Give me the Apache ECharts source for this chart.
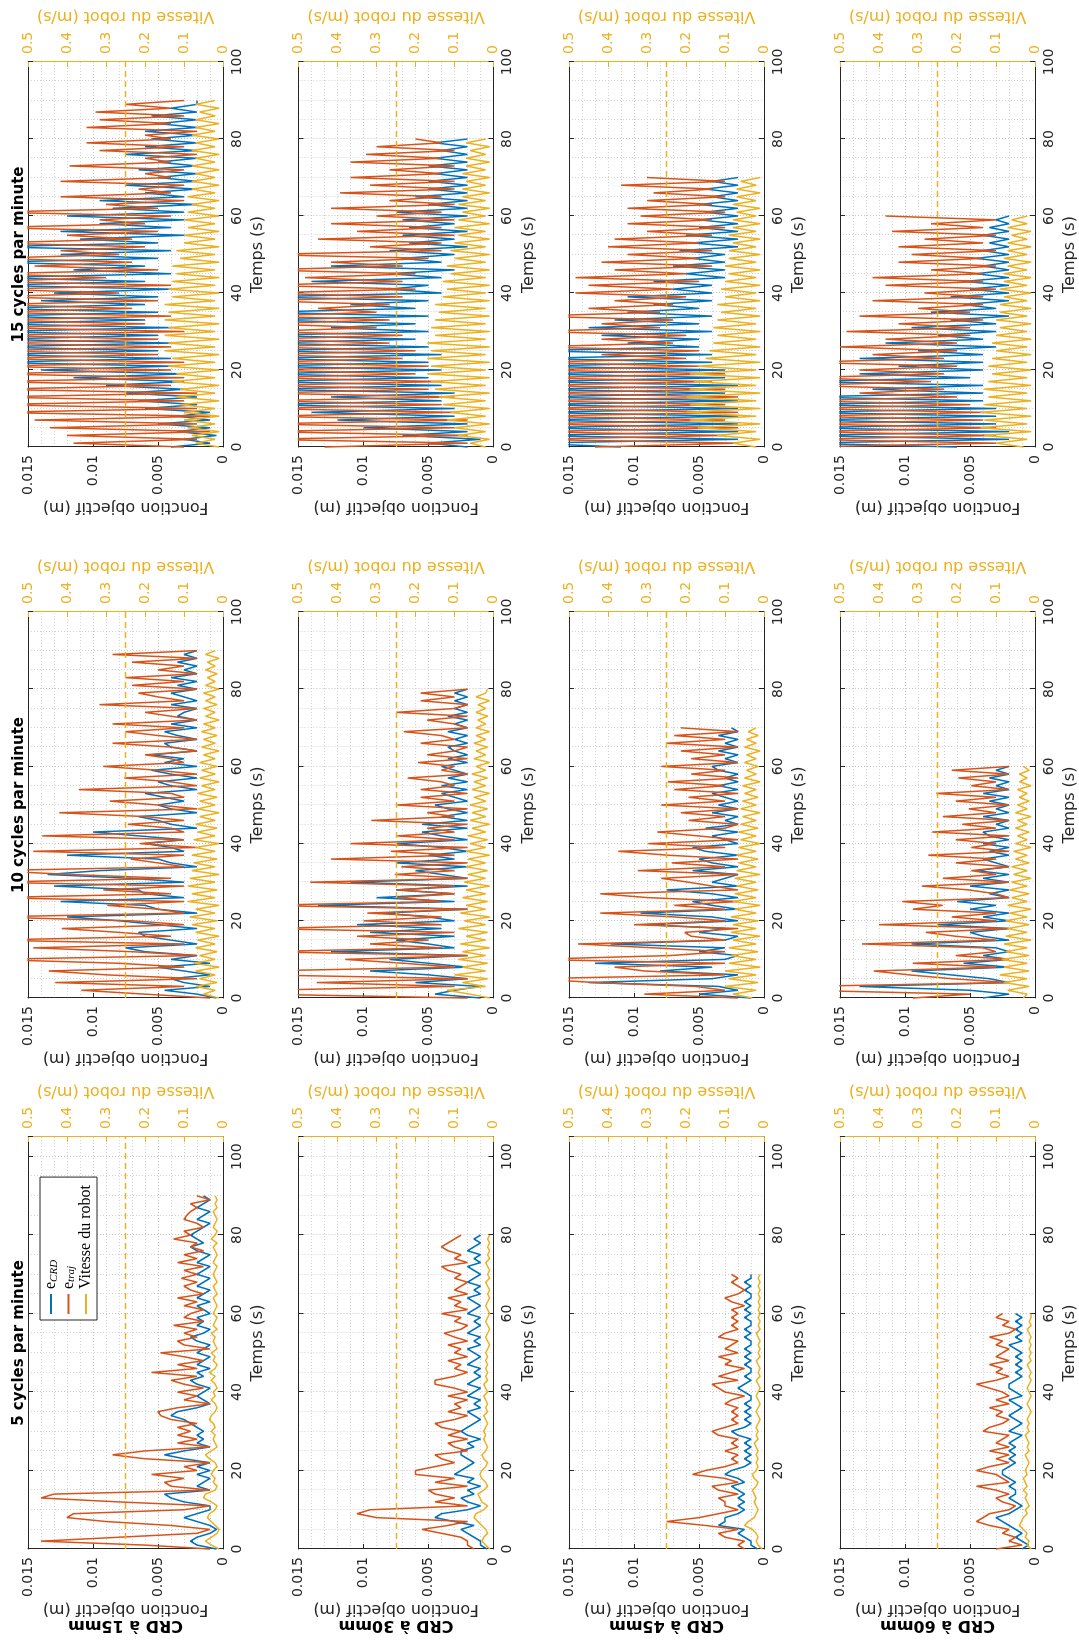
<!DOCTYPE html>
<html>
<head>
<meta charset="utf-8">
<script src="https://cdn.jsdelivr.net/npm/echarts/dist/echarts.min.js"></script>
<style>
html,body{margin:0;padding:0;width:1079px;height:1646px;overflow:hidden;background:#fff;}
#chart{position:absolute;left:0;top:1646px;width:1646px;height:1079px;transform-origin:0 0;transform:rotate(-90deg);background:#fff;}
</style>
</head>
<body>
<div id="chart"></div>
<script>
// ---------------- labels ----------------
const crdLabels = ['CRD à 15mm', 'CRD à 30mm', 'CRD à 45mm', 'CRD à 60mm'];
const cadenceLabels = ['5 cycles par minute', '10 cycles par minute', '15 cycles par minute'];
const seriesNames = ['e_CRD', 'e_traj', 'Vitesse du robot'];
const xAxisName = 'Temps (s)';
const yLeftName = 'Fonction objectif (m)';
const yRightName = 'Vitesse du robot (m/s)';
const vitesseSeuil = 0.25;      // dashed reference line (m/s)
const dt = 1;                   // sampling step of the arrays below (s)

// ---------------- data : CRD 15mm ----------------
const eCRD_15mm_5cpm = [
0.0005,0.002,0.0025,0.002,0.001,0.0005,0.001,0.002,0.003,0.002,
0.001,0.001,0.003,0.004,0.0045,0.001,0.002,0.0015,0.001,0.002,
0.001,0.002,0.001,0.003,0.0045,0.003,0.001,0.002,0.0015,0.002,
0.0015,0.002,0.0025,0.003,0.004,0.0035,0.002,0.001,0.0015,0.002,
0.0015,0.001,0.002,0.0025,0.0015,0.002,0.001,0.002,0.0015,0.001,
0.002,0.0015,0.001,0.002,0.0025,0.0015,0.001,0.002,0.0015,0.002,
0.001,0.0015,0.002,0.001,0.002,0.0015,0.001,0.002,0.0015,0.001,
0.002,0.0015,0.001,0.002,0.0015,0.001,0.002,0.0025,0.0015,0.002,
0.0025,0.002,0.0015,0.001,0.002,0.0015,0.001,0.002,0.0015,0.001,
0.0015];
const eTraj_15mm_5cpm = [
0.001,0.006,0.014,0.008,0.002,0.001,0.004,0.009,0.012,0.0115,
0.003,0.001,0.008,0.014,0.013,0.001,0.004,0.0045,0.003,0.0055,
0.002,0.003,0.001,0.006,0.0085,0.006,0.001,0.0035,0.002,0.0035,
0.0025,0.0035,0.002,0.004,0.0048,0.005,0.0035,0.001,0.003,0.002,
0.0035,0.0015,0.003,0.004,0.002,0.0055,0.002,0.0035,0.0015,0.003,
0.0048,0.001,0.003,0.0035,0.002,0.003,0.002,0.0038,0.0015,0.003,
0.0025,0.0015,0.003,0.002,0.0035,0.0015,0.0025,0.003,0.002,0.0032,
0.002,0.003,0.0015,0.0035,0.002,0.003,0.0015,0.0025,0.002,0.0038,
0.0025,0.003,0.0015,0.002,0.003,0.0028,0.0025,0.002,0.0025,0.001,
0.002];
const vit_15mm_5cpm = [
0.01,0.03,0.045,0.03,0.015,0.01,0.02,0.03,0.04,0.035,
0.02,0.015,0.03,0.05,0.045,0.02,0.015,0.025,0.02,0.03,
0.025,0.015,0.02,0.035,0.045,0.03,0.015,0.02,0.025,0.02,
0.03,0.02,0.025,0.035,0.03,0.02,0.015,0.02,0.03,0.02,
0.025,0.015,0.02,0.03,0.02,0.035,0.02,0.015,0.025,0.02,
0.03,0.015,0.02,0.025,0.02,0.03,0.015,0.025,0.02,0.015,
0.025,0.02,0.015,0.02,0.025,0.015,0.02,0.025,0.015,0.02,
0.025,0.02,0.015,0.025,0.02,0.015,0.02,0.025,0.015,0.03,
0.02,0.015,0.025,0.02,0.015,0.02,0.025,0.015,0.02,0.015,
0.02];

const eCRD_15mm_10cpm = [
0.0005,0.002,0.0045,0.001,0.003,0.004,0.001,0.003,0.005,0.001,
0.004,0.002,0.006,0.0075,0.002,0.004,0.006,0.0065,0.002,0.005,
0.008,0.012,0.002,0.005,0.006,0.0125,0.003,0.006,0.0065,0.013,
0.003,0.007,0.0135,0.0095,0.002,0.004,0.005,0.012,0.003,0.004,
0.006,0.003,0.0065,0.01,0.002,0.004,0.005,0.0065,0.002,0.004,
0.005,0.003,0.0045,0.006,0.002,0.004,0.005,0.002,0.004,0.0055,
0.002,0.0045,0.003,0.0055,0.002,0.004,0.0045,0.002,0.0035,0.0045,
0.002,0.004,0.002,0.0035,0.003,0.002,0.004,0.002,0.003,0.004,
0.002,0.0035,0.002,0.004,0.002,0.003,0.002,0.0035,0.002,0.003,
0.002];
const eTraj_15mm_10cpm = [
0.001,0.006,0.0109,0.003,0.0129,0.002,0.009,0.0134,0.003,0.008,
0.018,0.002,0.007,0.0146,0.003,0.018,0.004,0.008,0.0124,0.003,
0.007,0.018,0.003,0.005,0.0089,0.003,0.018,0.004,0.0092,0.003,
0.018,0.004,0.0117,0.018,0.003,0.005,0.0071,0.003,0.0146,0.002,
0.0064,0.003,0.0139,0.003,0.004,0.0073,0.003,0.006,0.0126,0.002,
0.005,0.0087,0.003,0.004,0.0111,0.002,0.004,0.0076,0.002,0.005,
0.0092,0.003,0.004,0.006,0.002,0.004,0.0085,0.002,0.005,0.0075,
0.003,0.0085,0.002,0.004,0.006,0.002,0.0095,0.003,0.005,0.0065,
0.002,0.007,0.003,0.0075,0.002,0.005,0.003,0.007,0.002,0.0085,
0.002];
const vit_15mm_10cpm = [
0.01,0.05,0.02,0.07,0.015,0.06,0.02,0.07,0.01,0.075,
0.02,0.06,0.015,0.07,0.02,0.065,0.01,0.07,0.02,0.08,
0.015,0.085,0.02,0.07,0.01,0.09,0.02,0.08,0.015,0.09,
0.02,0.085,0.01,0.08,0.02,0.075,0.015,0.08,0.02,0.07,
0.01,0.075,0.02,0.065,0.015,0.07,0.02,0.06,0.01,0.065,
0.02,0.06,0.015,0.065,0.02,0.055,0.01,0.06,0.02,0.055,
0.015,0.06,0.02,0.05,0.01,0.055,0.02,0.05,0.015,0.055,
0.02,0.05,0.01,0.045,0.02,0.05,0.015,0.045,0.02,0.05,
0.01,0.045,0.02,0.04,0.015,0.045,0.02,0.04,0.01,0.045,
0.02];

const eCRD_15mm_15cpm = [
0.004,0.001,0.003,0.0005,0.0035,0.001,0.005,0.001,0.0035,0.001,
0.006,0.002,0.0065,0.002,0.0075,0.003,0.009,0.003,0.0115,0.003,
0.014,0.004,0.018,0.004,0.018,0.005,0.018,0.004,0.018,0.005,
0.018,0.004,0.018,0.006,0.018,0.005,0.018,0.006,0.014,0.005,
0.013,0.004,0.018,0.006,0.018,0.004,0.0115,0.006,0.018,0.005,
0.0125,0.004,0.018,0.005,0.011,0.003,0.0125,0.004,0.0095,0.003,
0.012,0.003,0.0085,0.002,0.0095,0.003,0.006,0.002,0.0075,0.002,
0.005,0.002,0.0065,0.002,0.005,0.002,0.0075,0.002,0.006,0.002,
0.0055,0.002,0.006,0.002,0.005,0.002,0.0055,0.002,0.004,0.002,
0.002];
const eTraj_15mm_15cpm = [
0.003,0.0115,0.002,0.012,0.001,0.0133,0.002,0.0145,0.001,0.018,
0.002,0.018,0.003,0.018,0.002,0.018,0.004,0.018,0.003,0.018,
0.004,0.018,0.003,0.018,0.005,0.018,0.004,0.018,0.005,0.018,
0.003,0.018,0.006,0.018,0.004,0.018,0.007,0.018,0.005,0.018,
0.008,0.018,0.004,0.018,0.009,0.018,0.005,0.0145,0.007,0.018,
0.008,0.0125,0.006,0.018,0.007,0.012,0.005,0.018,0.006,0.0095,
0.004,0.018,0.005,0.009,0.003,0.0125,0.004,0.0065,0.003,0.0125,
0.004,0.006,0.003,0.0118,0.004,0.006,0.002,0.0095,0.003,0.0105,
0.004,0.006,0.002,0.0105,0.004,0.0095,0.003,0.0098,0.004,0.0075,
0.003];
const vit_15mm_15cpm = [
0.01,0.07,0.02,0.08,0.01,0.09,0.02,0.1,0.01,0.1,
0.02,0.11,0.01,0.12,0.02,0.11,0.01,0.13,0.02,0.12,
0.01,0.14,0.02,0.13,0.01,0.15,0.02,0.14,0.01,0.15,
0.02,0.14,0.01,0.15,0.02,0.14,0.01,0.15,0.02,0.13,
0.01,0.14,0.02,0.13,0.01,0.12,0.02,0.13,0.01,0.11,
0.02,0.12,0.01,0.1,0.02,0.1,0.01,0.09,0.02,0.1,
0.01,0.09,0.02,0.08,0.01,0.09,0.02,0.08,0.01,0.08,
0.02,0.07,0.01,0.08,0.02,0.07,0.01,0.08,0.02,0.07,
0.01,0.08,0.02,0.07,0.01,0.07,0.02,0.06,0.01,0.07,
0.02];

// ---------------- data : CRD 30mm ----------------
const eCRD_30mm_5cpm = [
0.0005,0.001,0.001,0.0015,0.002,0.0025,0.0015,0.003,0.0045,0.004,
0.002,0.001,0.002,0.0025,0.0015,0.002,0.001,0.002,0.0015,0.003,
0.0025,0.002,0.0015,0.002,0.0025,0.0025,0.0015,0.002,0.001,0.002,
0.0025,0.002,0.0015,0.001,0.0015,0.002,0.001,0.0015,0.001,0.002,
0.0015,0.001,0.002,0.0015,0.001,0.0015,0.001,0.002,0.0015,0.001,
0.0015,0.002,0.001,0.0015,0.001,0.002,0.0015,0.001,0.0015,0.001,
0.002,0.0015,0.001,0.0015,0.002,0.001,0.0015,0.001,0.002,0.0015,
0.001,0.0015,0.002,0.001,0.0015,0.001,0.002,0.0015,0.001,0.0015,
0.001];
const eTraj_30mm_5cpm = [
0.0015,0.002,0.002,0.0025,0.004,0.0055,0.0035,0.002,0.009,0.0105,
0.0095,0.002,0.0045,0.003,0.0045,0.005,0.002,0.0045,0.003,0.006,
0.006,0.0045,0.003,0.004,0.0045,0.002,0.003,0.0035,0.002,0.0035,
0.0025,0.004,0.0045,0.003,0.002,0.0035,0.0025,0.003,0.002,0.0035,
0.002,0.003,0.0045,0.0045,0.003,0.002,0.003,0.0025,0.0035,0.002,
0.003,0.0025,0.0035,0.002,0.003,0.0038,0.0025,0.002,0.003,0.0025,
0.004,0.002,0.003,0.0025,0.0035,0.002,0.003,0.0025,0.002,0.003,
0.0025,0.0035,0.004,0.002,0.003,0.0025,0.0035,0.004,0.0035,0.003,
0.0025];
const vit_30mm_5cpm = [
0.01,0.02,0.03,0.025,0.015,0.02,0.03,0.04,0.05,0.045,
0.025,0.015,0.03,0.035,0.04,0.025,0.015,0.02,0.03,0.035,
0.03,0.02,0.015,0.025,0.03,0.02,0.015,0.02,0.025,0.02,
0.025,0.02,0.015,0.02,0.025,0.015,0.02,0.015,0.02,0.025,
0.015,0.02,0.025,0.015,0.02,0.015,0.02,0.015,0.02,0.015,
0.02,0.015,0.01,0.015,0.02,0.015,0.01,0.015,0.02,0.015,
0.01,0.015,0.02,0.015,0.01,0.015,0.01,0.015,0.02,0.01,
0.015,0.01,0.015,0.02,0.01,0.015,0.01,0.015,0.01,0.015,
0.01];

const eCRD_30mm_10cpm = [
0.001,0.0045,0.003,0.001,0.006,0.002,0.005,0.0095,0.002,0.005,
0.008,0.002,0.0125,0.003,0.005,0.0075,0.003,0.0095,0.004,0.0105,
0.003,0.005,0.0085,0.002,0.0135,0.003,0.009,0.003,0.0075,0.002,
0.011,0.002,0.004,0.006,0.002,0.0075,0.003,0.005,0.002,0.004,
0.0075,0.002,0.004,0.0055,0.002,0.0055,0.002,0.004,0.002,0.0035,
0.0045,0.002,0.003,0.004,0.002,0.004,0.002,0.0035,0.002,0.003,
0.004,0.002,0.0035,0.002,0.003,0.0035,0.002,0.003,0.002,0.0035,
0.002,0.003,0.002,0.0035,0.002,0.003,0.002,0.003,0.002,0.003,
0.002];
const eTraj_30mm_10cpm = [
0.002,0.018,0.018,0.003,0.0136,0.002,0.018,0.018,0.003,0.0069,
0.0114,0.002,0.018,0.004,0.0095,0.005,0.0105,0.003,0.018,0.004,
0.01,0.004,0.0097,0.002,0.018,0.004,0.0074,0.003,0.0074,0.003,
0.0141,0.002,0.0076,0.003,0.0071,0.002,0.0125,0.003,0.0079,0.002,
0.011,0.003,0.0074,0.003,0.0051,0.002,0.0094,0.003,0.0051,0.002,
0.0074,0.003,0.0056,0.002,0.0056,0.003,0.004,0.0066,0.002,0.004,
0.003,0.0058,0.002,0.0051,0.003,0.002,0.0056,0.003,0.004,0.0069,
0.002,0.003,0.0051,0.002,0.0075,0.003,0.002,0.0056,0.003,0.0056,
0.002];
const vit_30mm_10cpm = [
0.01,0.06,0.12,0.02,0.08,0.015,0.1,0.02,0.08,0.015,
0.09,0.02,0.08,0.01,0.085,0.02,0.07,0.015,0.09,0.02,
0.075,0.01,0.085,0.02,0.07,0.015,0.08,0.02,0.07,0.01,
0.075,0.02,0.065,0.015,0.07,0.02,0.065,0.01,0.07,0.02,
0.06,0.015,0.065,0.02,0.055,0.01,0.06,0.02,0.055,0.015,
0.06,0.02,0.05,0.01,0.055,0.02,0.05,0.015,0.055,0.02,
0.045,0.01,0.05,0.02,0.045,0.015,0.05,0.02,0.045,0.01,
0.045,0.02,0.04,0.015,0.045,0.02,0.04,0.01,0.045,0.02,
0.015];

const eCRD_30mm_15cpm = [
0.002,0.005,0.001,0.007,0.002,0.01,0.002,0.012,0.003,0.014,
0.003,0.018,0.004,0.0125,0.003,0.018,0.004,0.018,0.005,0.018,
0.004,0.018,0.005,0.018,0.004,0.018,0.005,0.018,0.006,0.018,
0.005,0.0125,0.006,0.018,0.005,0.018,0.006,0.011,0.005,0.018,
0.004,0.008,0.005,0.014,0.004,0.008,0.003,0.0125,0.004,0.007,
0.003,0.008,0.002,0.0065,0.003,0.007,0.002,0.0065,0.003,0.007,
0.002,0.0075,0.002,0.005,0.002,0.006,0.002,0.005,0.002,0.005,
0.002,0.0045,0.002,0.005,0.002,0.0045,0.002,0.004,0.002,0.0045,
0.002];
const eTraj_30mm_15cpm = [
0.013,0.002,0.018,0.002,0.018,0.003,0.018,0.002,0.018,0.003,
0.018,0.004,0.018,0.003,0.018,0.005,0.018,0.004,0.018,0.006,
0.018,0.005,0.018,0.007,0.018,0.006,0.018,0.008,0.018,0.007,
0.018,0.009,0.018,0.008,0.018,0.009,0.0135,0.008,0.018,0.007,
0.018,0.006,0.018,0.007,0.0145,0.006,0.018,0.007,0.0125,0.005,
0.018,0.004,0.0095,0.004,0.0135,0.003,0.0105,0.004,0.0125,0.003,
0.009,0.004,0.0125,0.003,0.008,0.004,0.0118,0.003,0.0095,0.003,
0.011,0.004,0.008,0.003,0.011,0.004,0.0098,0.003,0.009,0.004,
0.006];
const vit_30mm_15cpm = [
0.02,0.06,0.01,0.09,0.02,0.1,0.01,0.12,0.02,0.11,
0.01,0.13,0.02,0.14,0.01,0.15,0.02,0.16,0.01,0.17,
0.02,0.16,0.01,0.17,0.02,0.16,0.01,0.17,0.02,0.15,
0.01,0.16,0.02,0.15,0.01,0.14,0.02,0.15,0.01,0.13,
0.02,0.12,0.01,0.13,0.02,0.11,0.01,0.12,0.02,0.1,
0.01,0.11,0.02,0.1,0.01,0.09,0.02,0.1,0.01,0.09,
0.02,0.08,0.01,0.09,0.02,0.08,0.01,0.08,0.02,0.07,
0.01,0.08,0.02,0.07,0.01,0.07,0.02,0.06,0.01,0.07,
0.02];

// ---------------- data : CRD 45mm ----------------
const eCRD_45mm_5cpm = [
0.0005,0.001,0.001,0.0015,0.002,0.0015,0.0035,0.003,0.003,0.002,
0.0015,0.002,0.0015,0.002,0.0015,0.002,0.0025,0.0015,0.002,0.003,
0.0025,0.0015,0.001,0.0015,0.001,0.0015,0.001,0.0015,0.001,0.002,
0.0025,0.0015,0.001,0.0015,0.001,0.0015,0.001,0.0015,0.001,0.001,
0.0015,0.002,0.0015,0.001,0.0015,0.001,0.001,0.0015,0.001,0.0015,
0.001,0.0015,0.001,0.001,0.0015,0.001,0.0015,0.001,0.001,0.0015,
0.001,0.0015,0.001,0.0015,0.001,0.001,0.0015,0.001,0.0015,0.001,
0.001];
const eTraj_45mm_5cpm = [
0.0015,0.002,0.0015,0.003,0.0035,0.002,0.0045,0.0075,0.005,0.0035,
0.002,0.003,0.003,0.0035,0.002,0.0035,0.004,0.002,0.003,0.0055,
0.0045,0.003,0.002,0.0025,0.002,0.003,0.002,0.0025,0.002,0.0035,
0.004,0.003,0.002,0.0025,0.002,0.0025,0.002,0.003,0.0025,0.0015,
0.003,0.0035,0.004,0.002,0.0035,0.0025,0.0015,0.003,0.0025,0.0035,
0.002,0.003,0.0025,0.002,0.0035,0.003,0.002,0.0025,0.002,0.0025,
0.002,0.0025,0.0015,0.0025,0.003,0.002,0.0015,0.002,0.0025,0.002,
0.0025];
const vit_45mm_5cpm = [
0.005,0.015,0.02,0.015,0.02,0.03,0.05,0.04,0.025,0.02,
0.015,0.02,0.025,0.02,0.025,0.03,0.02,0.015,0.025,0.03,
0.02,0.015,0.02,0.015,0.02,0.015,0.02,0.025,0.015,0.02,
0.015,0.02,0.015,0.01,0.015,0.02,0.015,0.01,0.015,0.02,
0.015,0.01,0.015,0.02,0.01,0.015,0.01,0.015,0.02,0.01,
0.015,0.01,0.015,0.01,0.015,0.02,0.01,0.015,0.01,0.015,
0.01,0.015,0.01,0.015,0.01,0.015,0.01,0.015,0.01,0.015,
0.01];

const eCRD_45mm_10cpm = [
0.001,0.005,0.002,0.0035,0.0135,0.004,0.002,0.008,0.004,0.013,
0.003,0.002,0.005,0.003,0.0118,0.003,0.002,0.005,0.003,0.009,
0.002,0.004,0.0095,0.002,0.004,0.0055,0.002,0.004,0.0075,0.002,
0.004,0.003,0.002,0.0055,0.002,0.004,0.005,0.002,0.0045,0.0055,
0.002,0.003,0.004,0.002,0.0045,0.002,0.003,0.002,0.004,0.002,
0.0035,0.002,0.003,0.004,0.002,0.0035,0.002,0.003,0.002,0.0035,
0.004,0.002,0.003,0.002,0.0035,0.002,0.003,0.002,0.0035,0.002,
0.0025];
const eTraj_45mm_10cpm = [
0.002,0.0092,0.003,0.0053,0.0129,0.018,0.003,0.0092,0.0115,0.003,
0.018,0.0072,0.003,0.0085,0.0143,0.003,0.0056,0.0061,0.002,0.01,
0.003,0.0069,0.0126,0.003,0.0069,0.002,0.0089,0.0126,0.002,0.004,
0.0058,0.0079,0.002,0.0097,0.003,0.0071,0.002,0.0074,0.0112,0.003,
0.0089,0.002,0.0051,0.0082,0.003,0.002,0.0058,0.003,0.0064,0.002,
0.0079,0.003,0.0058,0.002,0.0069,0.003,0.0074,0.002,0.0056,0.003,
0.0079,0.002,0.0056,0.003,0.0064,0.002,0.0075,0.003,0.0069,0.002,
0.0064];
const vit_45mm_10cpm = [
0.03,0.08,0.02,0.1,0.015,0.09,0.02,0.1,0.01,0.09,
0.02,0.085,0.015,0.09,0.02,0.08,0.01,0.085,0.02,0.08,
0.015,0.085,0.02,0.075,0.01,0.08,0.02,0.075,0.015,0.07,
0.02,0.075,0.01,0.07,0.02,0.065,0.015,0.07,0.02,0.065,
0.01,0.06,0.02,0.065,0.015,0.06,0.02,0.055,0.01,0.06,
0.02,0.055,0.015,0.05,0.02,0.055,0.01,0.05,0.02,0.045,
0.015,0.05,0.02,0.045,0.01,0.05,0.02,0.045,0.015,0.04,
0.02];

const eCRD_45mm_15cpm = [
0.011,0.018,0.002,0.018,0.002,0.018,0.002,0.018,0.002,0.018,
0.002,0.018,0.002,0.018,0.003,0.018,0.002,0.018,0.003,0.018,
0.003,0.018,0.004,0.018,0.004,0.018,0.005,0.0105,0.005,0.0125,
0.004,0.0135,0.005,0.0115,0.004,0.0105,0.005,0.0085,0.004,0.0105,
0.004,0.007,0.004,0.0085,0.003,0.006,0.003,0.007,0.003,0.0055,
0.003,0.0065,0.002,0.0055,0.002,0.006,0.002,0.005,0.002,0.005,
0.002,0.0045,0.002,0.005,0.002,0.004,0.002,0.0045,0.002,0.004,
0.002];
const eTraj_45mm_15cpm = [
0.013,0.002,0.018,0.003,0.018,0.002,0.018,0.003,0.018,0.002,
0.018,0.003,0.018,0.002,0.018,0.003,0.018,0.004,0.018,0.003,
0.018,0.005,0.018,0.006,0.0125,0.005,0.018,0.007,0.0125,0.006,
0.018,0.008,0.0125,0.007,0.018,0.008,0.0135,0.007,0.0115,0.006,
0.0145,0.007,0.0135,0.005,0.0145,0.006,0.0115,0.004,0.0125,0.005,
0.0105,0.004,0.012,0.005,0.0115,0.004,0.009,0.003,0.0105,0.004,
0.0095,0.003,0.0105,0.004,0.009,0.003,0.0085,0.004,0.011,0.003,
0.009];
const vit_45mm_15cpm = [
0.02,0.08,0.01,0.12,0.02,0.17,0.01,0.19,0.02,0.2,
0.01,0.19,0.02,0.2,0.01,0.19,0.02,0.18,0.01,0.19,
0.02,0.17,0.01,0.15,0.02,0.14,0.01,0.13,0.02,0.12,
0.01,0.13,0.02,0.12,0.01,0.11,0.02,0.12,0.01,0.1,
0.02,0.11,0.01,0.1,0.02,0.09,0.01,0.1,0.02,0.09,
0.01,0.09,0.02,0.08,0.01,0.09,0.02,0.08,0.01,0.08,
0.02,0.07,0.01,0.08,0.02,0.07,0.01,0.07,0.02,0.06,
0.01];

// ---------------- data : CRD 60mm ----------------
const eCRD_60mm_5cpm = [
0.001,0.0005,0.001,0.0015,0.001,0.0015,0.002,0.0025,0.003,0.002,
0.0015,0.001,0.0015,0.002,0.0015,0.0015,0.002,0.0015,0.002,0.0025,
0.0025,0.002,0.0015,0.002,0.0015,0.002,0.0015,0.002,0.0015,0.001,
0.002,0.0015,0.001,0.0015,0.002,0.0015,0.001,0.0015,0.002,0.001,
0.0015,0.002,0.002,0.0015,0.001,0.0015,0.001,0.0015,0.001,0.0015,
0.001,0.0015,0.002,0.001,0.0015,0.001,0.0015,0.001,0.0015,0.001,
0.0015];
const eTraj_60mm_5cpm = [
0.003,0.001,0.002,0.0015,0.0025,0.002,0.0035,0.0045,0.004,0.0035,
0.002,0.0015,0.0025,0.003,0.002,0.003,0.0045,0.002,0.0025,0.003,
0.0045,0.0035,0.002,0.003,0.002,0.0035,0.002,0.003,0.0025,0.002,
0.004,0.0035,0.0025,0.002,0.003,0.0025,0.0035,0.002,0.003,0.002,
0.0025,0.0035,0.0045,0.003,0.002,0.003,0.0025,0.0035,0.002,0.003,
0.0025,0.002,0.003,0.0025,0.0035,0.002,0.0015,0.0025,0.002,0.003,
0.0025];
const vit_60mm_5cpm = [
0.01,0.02,0.015,0.025,0.02,0.03,0.04,0.035,0.03,0.02,
0.025,0.015,0.02,0.025,0.02,0.03,0.02,0.025,0.03,0.02,
0.025,0.02,0.015,0.02,0.025,0.015,0.02,0.015,0.02,0.025,
0.015,0.02,0.015,0.02,0.015,0.01,0.015,0.02,0.015,0.01,
0.015,0.02,0.015,0.01,0.015,0.01,0.015,0.02,0.01,0.015,
0.01,0.015,0.01,0.015,0.01,0.015,0.02,0.01,0.015,0.01,
0.01];

const eCRD_60mm_10cpm = [
0.004,0.002,0.005,0.0135,0.002,0.0035,0.0065,0.0095,0.002,0.0055,
0.002,0.004,0.002,0.003,0.0095,0.002,0.004,0.005,0.002,0.0075,
0.002,0.004,0.002,0.005,0.003,0.006,0.002,0.0035,0.002,0.005,
0.002,0.004,0.002,0.0045,0.002,0.003,0.004,0.002,0.0035,0.002,
0.004,0.002,0.0035,0.004,0.002,0.003,0.002,0.004,0.002,0.003,
0.002,0.0035,0.002,0.004,0.002,0.003,0.002,0.0035,0.002,0.003,
0.002];
const eTraj_60mm_10cpm = [
0.0094,0.005,0.018,0.018,0.002,0.0064,0.0097,0.0124,0.003,0.0094,
0.002,0.0061,0.003,0.004,0.0133,0.003,0.0061,0.0084,0.002,0.012,
0.003,0.0064,0.003,0.0094,0.0071,0.0102,0.002,0.003,0.0051,0.0087,
0.002,0.0071,0.003,0.0049,0.002,0.0061,0.003,0.0082,0.002,0.0049,
0.003,0.0061,0.002,0.0079,0.003,0.0056,0.002,0.0071,0.003,0.0051,
0.002,0.0061,0.003,0.0076,0.002,0.0049,0.003,0.0059,0.002,0.0064,
0.002];
const vit_60mm_10cpm = [
0.03,0.02,0.07,0.015,0.08,0.02,0.09,0.015,0.08,0.02,
0.085,0.015,0.075,0.02,0.08,0.01,0.075,0.02,0.07,0.015,
0.075,0.02,0.065,0.01,0.07,0.02,0.06,0.015,0.065,0.02,
0.06,0.01,0.055,0.02,0.06,0.015,0.05,0.02,0.055,0.01,
0.05,0.02,0.045,0.015,0.05,0.02,0.045,0.01,0.05,0.02,
0.045,0.015,0.04,0.02,0.045,0.01,0.04,0.02,0.04,0.015,
0.03];

const eCRD_60mm_15cpm = [
0.006,0.018,0.002,0.018,0.002,0.018,0.003,0.018,0.003,0.018,
0.003,0.018,0.004,0.018,0.004,0.0125,0.004,0.018,0.005,0.0135,
0.004,0.0105,0.004,0.0135,0.004,0.009,0.003,0.0115,0.004,0.0075,
0.003,0.0095,0.003,0.0065,0.002,0.008,0.003,0.0055,0.002,0.0065,
0.002,0.005,0.002,0.0055,0.002,0.0045,0.002,0.004,0.002,0.0045,
0.002,0.004,0.002,0.0035,0.002,0.004,0.002,0.0035,0.002,0.003,
0.002];
const eTraj_60mm_15cpm = [
0.018,0.003,0.018,0.003,0.018,0.003,0.018,0.004,0.018,0.004,
0.018,0.005,0.018,0.006,0.0135,0.007,0.018,0.008,0.018,0.007,
0.0135,0.006,0.018,0.007,0.0125,0.006,0.015,0.006,0.0115,0.005,
0.0145,0.005,0.0105,0.004,0.0135,0.005,0.009,0.004,0.0125,0.004,
0.0085,0.003,0.0115,0.004,0.0125,0.004,0.008,0.003,0.0105,0.004,
0.0095,0.003,0.0105,0.004,0.0085,0.003,0.011,0.004,0.008,0.003,
0.0115];
const vit_60mm_15cpm = [
0.03,0.1,0.02,0.13,0.01,0.14,0.02,0.13,0.01,0.14,
0.02,0.13,0.01,0.12,0.02,0.13,0.01,0.12,0.02,0.11,
0.01,0.12,0.02,0.11,0.01,0.1,0.02,0.11,0.01,0.1,
0.02,0.09,0.01,0.1,0.02,0.09,0.01,0.09,0.02,0.08,
0.01,0.09,0.02,0.08,0.01,0.08,0.02,0.07,0.01,0.08,
0.02,0.07,0.01,0.07,0.02,0.06,0.01,0.07,0.02,0.06,
0.02];

// rows = CRD distance, columns = cadence
const panelData = [
  [[eCRD_15mm_5cpm, eTraj_15mm_5cpm, vit_15mm_5cpm], [eCRD_15mm_10cpm, eTraj_15mm_10cpm, vit_15mm_10cpm], [eCRD_15mm_15cpm, eTraj_15mm_15cpm, vit_15mm_15cpm]],
  [[eCRD_30mm_5cpm, eTraj_30mm_5cpm, vit_30mm_5cpm], [eCRD_30mm_10cpm, eTraj_30mm_10cpm, vit_30mm_10cpm], [eCRD_30mm_15cpm, eTraj_30mm_15cpm, vit_30mm_15cpm]],
  [[eCRD_45mm_5cpm, eTraj_45mm_5cpm, vit_45mm_5cpm], [eCRD_45mm_10cpm, eTraj_45mm_10cpm, vit_45mm_10cpm], [eCRD_45mm_15cpm, eTraj_45mm_15cpm, vit_45mm_15cpm]],
  [[eCRD_60mm_5cpm, eTraj_60mm_5cpm, vit_60mm_5cpm], [eCRD_60mm_10cpm, eTraj_60mm_10cpm, vit_60mm_10cpm], [eCRD_60mm_15cpm, eTraj_60mm_15cpm, vit_60mm_15cpm]]
];

// ---------------- layout / style (in the un-rotated 1646 x 1079 frame) ----------------
const COL_LEFT = [97, 648, 1199];
const COL_W = [412, 386, 385];
const COL_XMAX = [105, 100, 100];
const ROW_TOP = [28, 298.5, 569, 840];
const BOX_H = 195;
const FONT = '"DejaVu Sans", sans-serif';
const C_BLUE = '#0072BD', C_RED = '#D95319', C_YEL = '#EDB120', C_AX = '#262626';
const seriesColors = [C_BLUE, C_RED, C_YEL];
const GRID_MAJOR = {color: '#c4c4c4', width: 1, type: [1, 2]};
const GRID_MINOR = {color: '#d4d4d4', width: 1, type: [1, 2]};

const grids = [], xAxes = [], yAxes = [], series = [], graphics = [];

function toPairs(arr) { return arr.map((v, i) => [i * dt, v]); }

for (let r = 0; r < 4; r++) {
  for (let c = 0; c < 3; c++) {
    const g = r * 3 + c;
    grids.push({left: COL_LEFT[c], top: ROW_TOP[r], width: COL_W[c], height: BOX_H});
    // bottom x axis
    xAxes.push({
      gridIndex: g, type: 'value', min: 0, max: COL_XMAX[c], interval: 20, position: 'bottom',
      name: xAxisName, nameLocation: 'middle', nameGap: 27,
      nameTextStyle: {fontFamily: FONT, fontSize: 16, color: C_AX},
      axisLine: {show: true, onZero: false, lineStyle: {color: C_AX, width: 1}},
      axisTick: {show: true, inside: true, length: 5, lineStyle: {color: C_AX}},
      axisLabel: {fontFamily: FONT, fontSize: 14, color: C_AX, margin: 7, showMaxLabel: COL_XMAX[c] === 100},
      splitLine: {show: true, lineStyle: GRID_MAJOR},
      minorTick: {show: false, splitNumber: 4},
      minorSplitLine: {show: true, lineStyle: GRID_MINOR}
    });
    // top x axis (box edge)
    xAxes.push({
      gridIndex: g, type: 'value', min: 0, max: COL_XMAX[c], interval: 20, position: 'top',
      axisLine: {show: true, onZero: false, lineStyle: {color: C_AX, width: 1}},
      axisTick: {show: true, inside: true, length: 5, lineStyle: {color: C_AX}},
      axisLabel: {show: false}, splitLine: {show: false}
    });
    // left y axis
    yAxes.push({
      gridIndex: g, type: 'value', min: 0, max: 0.015, interval: 0.005, position: 'left',
      name: yLeftName, nameLocation: 'middle', nameRotate: 90, nameGap: 50,
      nameTextStyle: {fontFamily: FONT, fontSize: 16, color: C_AX},
      axisLine: {show: true, onZero: false, lineStyle: {color: C_AX, width: 1}},
      axisTick: {show: true, inside: true, length: 5, lineStyle: {color: C_AX}},
      axisLabel: {fontFamily: FONT, fontSize: 14, color: C_AX, margin: 8},
      splitLine: {show: true, lineStyle: GRID_MAJOR},
      minorTick: {show: false, splitNumber: 5},
      minorSplitLine: {show: true, lineStyle: GRID_MINOR}
    });
    // right y axis
    yAxes.push({
      gridIndex: g, type: 'value', min: 0, max: 0.5, interval: 0.1, position: 'right',
      name: yRightName, nameLocation: 'middle', nameRotate: 90, nameGap: 38,
      nameTextStyle: {fontFamily: FONT, fontSize: 16, color: C_YEL},
      axisLine: {show: true, onZero: false, lineStyle: {color: C_YEL, width: 1}},
      axisTick: {show: true, inside: true, length: 5, lineStyle: {color: C_YEL}},
      axisLabel: {fontFamily: FONT, fontSize: 14, color: C_YEL, margin: 8},
      splitLine: {show: false}
    });
    const d = panelData[r][c];
    for (let s = 0; s < 3; s++) {
      const ser = {
        type: 'line', name: seriesNames[s], xAxisIndex: 2 * g, yAxisIndex: s < 2 ? 2 * g : 2 * g + 1,
        data: toPairs(d[s]), showSymbol: false, symbol: 'none', clip: true,
        color: seriesColors[s], lineStyle: {color: seriesColors[s], width: 1.5},
        z: 3 + s, animation: false
      };
      if (s === 2) {
        ser.markLine = {
          silent: true, symbol: 'none', label: {show: false}, animation: false,
          lineStyle: {color: C_YEL, type: [6, 4], width: 1.3},
          data: [{yAxis: vitesseSeuil}]
        };
      }
      series.push(ser);
    }
  }
}

// column titles
for (let c = 0; c < 3; c++) {
  graphics.push({
    type: 'text', x: COL_LEFT[c] + COL_W[c] / 2, y: 19,
    style: {text: cadenceLabels[c], font: 'bold 15px "DejaVu Sans"', fill: '#000', align: 'center', verticalAlign: 'middle'}
  });
}
// row labels
for (let r = 0; r < 4; r++) {
  graphics.push({
    type: 'text', x: 21, y: ROW_TOP[r] + BOX_H / 2, rotation: Math.PI / 2,
    style: {text: crdLabels[r], font: 'bold 16px "DejaVu Sans"', fill: '#000', align: 'center', verticalAlign: 'middle'}
  });
}

const chart = echarts.init(document.getElementById('chart'), null, {renderer: 'canvas'});
chart.setOption({
  animation: false,
  backgroundColor: '#ffffff',
  grid: grids, xAxis: xAxes, yAxis: yAxes, series: series, graphic: graphics,
  legend: {
    show: true, data: seriesNames, orient: 'vertical', left: 326, top: 40,
    backgroundColor: '#ffffff', borderColor: C_AX, borderWidth: 1, borderRadius: 0,
    padding: [3, 8, 3, 6], itemGap: 1, itemWidth: 20, itemHeight: 2, icon: 'rect',
    selectedMode: false,
    formatter: function (name) {
      if (name === 'e_CRD') return '{m|e}{s|CRD}';
      if (name === 'e_traj') return '{m|e}{s|traj}';
      return '{m|' + name + '}';
    },
    textStyle: {
      color: '#000',
      rich: {
        m: {fontFamily: '"Liberation Serif", serif', fontSize: 16, color: '#000', lineHeight: 17},
        s: {fontFamily: '"Liberation Serif", serif', fontStyle: 'italic', fontSize: 11, color: '#000', verticalAlign: 'bottom', lineHeight: 17}
      }
    }
  }
});
</script>
</body>
</html>
